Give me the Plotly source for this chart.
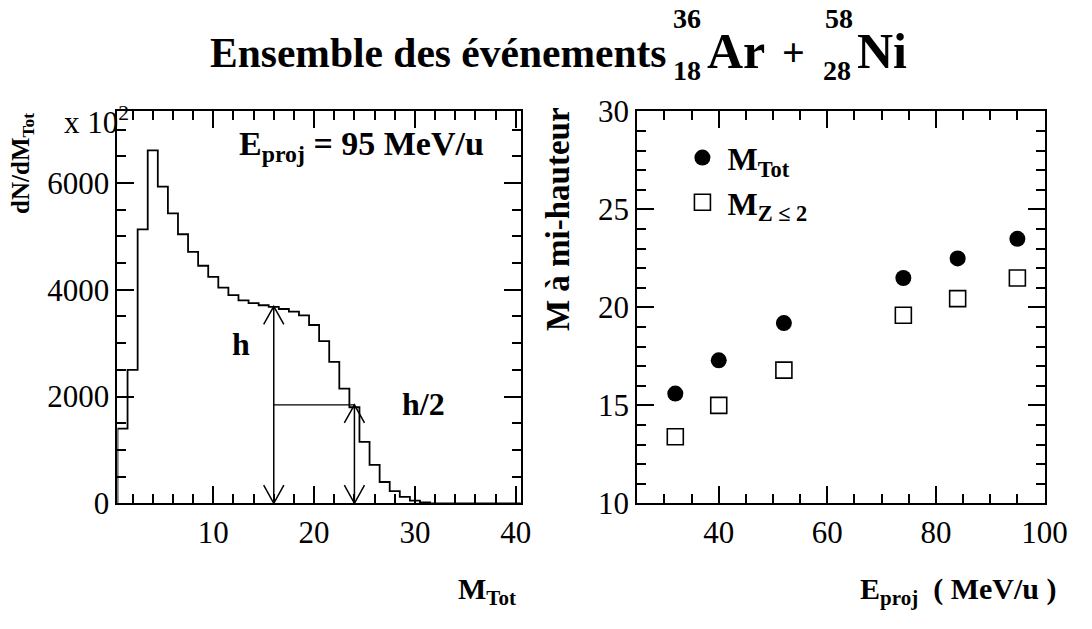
import numpy as np
import plotly.graph_objects as go

W, H = 1092, 629
FONT = "Liberation Serif, Times New Roman, Times, serif"

# ---------------- data ----------------
# Left panel: dN/dM_Tot (x 10^2) vs M_Tot, E_proj = 95 MeV/u
m_tot = list(range(1, 41))
counts = [1400, 2500, 5130, 6610, 5930, 5430, 5040, 4710, 4450, 4240,
          4040, 3900, 3800, 3750, 3710, 3680, 3640, 3590, 3520, 3340,
          3040, 2650, 2150, 1800, 1150, 720, 400, 230, 120, 50,
          20, 0, 0, 0, 0, 0, 0, 0, 0, 0]
h_pos = 16          # M_Tot where the height h is taken
h_val = 3690        # h
half_pos = 24       # M_Tot at half height

# Right panel: multiplicity at half height vs projectile energy
e_proj = [32, 40, 52, 74, 84, 95]
m_half_tot = [15.6, 17.3, 19.2, 21.5, 22.5, 23.5]
m_half_z2 = [13.4, 15.0, 16.8, 19.6, 20.45, 21.5]

# axis ranges
left_xrange, left_yrange = [0.5, 40.5], [0, 7340]
right_xrange, right_yrange = [25, 100], [10, 30]

# ---------------- figure ----------------
def px(x):
    return x / W

def py(y):
    return 1 - y / H

edges = list(np.array(m_tot) - 0.5) + [m_tot[-1] + 0.5]
hx = [edges[0]] + edges
hy = [0] + counts + [counts[-1]]

fig = go.Figure()
fig.add_trace(go.Scatter(x=hx, y=hy, mode="lines", line_shape="hv",
                         line=dict(color="black", width=1.8),
                         showlegend=False, xaxis="x", yaxis="y", hoverinfo="skip"))
fig.add_trace(go.Scatter(x=e_proj, y=m_half_tot, mode="markers",
                         name="<b>M<sub>Tot</sub></b>",
                         marker=dict(symbol="circle", size=16, color="black"),
                         xaxis="x2", yaxis="y2"))
fig.add_trace(go.Scatter(x=e_proj, y=m_half_z2, mode="markers",
                         name="<b>M<sub>Z ≤ 2</sub></b>",
                         marker=dict(symbol="square-open", size=16, color="black",
                                     line=dict(width=1.6, color="black")),
                         xaxis="x2", yaxis="y2"))

tickfont = dict(family=FONT, size=31, color="black")

def axis(domain, rng, dtick, minor_dtick, anchor):
    return dict(domain=domain, range=rng, dtick=dtick, tick0=0,
                ticks="inside", ticklen=17, tickwidth=2, tickcolor="black",
                minor=dict(dtick=minor_dtick, tick0=0, ticks="inside", ticklen=9,
                           tickwidth=1.6, tickcolor="black", showgrid=False),
                showline=True, linewidth=2, linecolor="black", mirror="allticks",
                showgrid=False, zeroline=False, tickfont=tickfont, anchor=anchor)

xdom_l = [px(120), px(532)]
xdom_r = [px(651), px(1067)]
ydom = [py(515), py(100)]
fig.update_layout(
    width=W, height=H, margin=dict(l=0, r=0, t=0, b=0),
    paper_bgcolor="white", plot_bgcolor="white",
    font=dict(family=FONT, color="black"),
    xaxis=axis(xdom_l, left_xrange, 10, 2, "y"),
    yaxis=axis(ydom, left_yrange, 2000, 500, "x"),
    xaxis2=axis(xdom_r, right_xrange, 20, 5, "y2"),
    yaxis2=axis(ydom, right_yrange, 5, 1, "x2"),
    legend=dict(x=px(692), y=py(120), xanchor="left", yanchor="top",
                bgcolor="rgba(0,0,0,0)", font=dict(family=FONT, size=32, color="black"),
                itemwidth=40, tracegroupgap=0),
)

# arrows (h and h/2)
dx, dy = 1.0, 340
ln = dict(color="black", width=1.5)
shapes = []
def varrow(x, y0, y1):
    shapes.append(dict(type="line", xref="x", yref="y", x0=x, x1=x, y0=y0, y1=y1, line=ln))
    shapes.append(dict(type="path", xref="x", yref="y",
                       path=f"M{x-dx},{y1-dy} L{x},{y1} L{x+dx},{y1-dy}", line=ln))
    shapes.append(dict(type="path", xref="x", yref="y",
                       path=f"M{x-dx},{y0+dy} L{x},{y0} L{x+dx},{y0+dy}", line=ln))
varrow(h_pos, 0, h_val)
varrow(half_pos, 0, h_val / 2)
shapes.append(dict(type="line", xref="x", yref="y", x0=h_pos, x1=half_pos,
                   y0=h_val / 2, y1=h_val / 2, line=dict(color="black", width=1.3)))
fig.update_layout(shapes=shapes)

anns = []
def ann(text, x, y, size, xanchor="center", yanchor="middle", angle=0):
    anns.append(dict(text=text, x=px(x), y=py(y), xref="paper", yref="paper",
                     xanchor=xanchor, yanchor=yanchor, showarrow=False, textangle=angle,
                     font=dict(family=FONT, size=size, color="black")))

# title
ann("<b>Ensemble des événements</b>", 212, 38, 41.5, xanchor="left")
ann("<b>36</b>", 702, 2, 28)
ann("<b>18</b>", 702, 57, 28)
ann("<b>Ar</b>", 720, 36, 50, xanchor="left")
ann("<b>+</b>", 811, 38, 40)
ann("<b>58</b>", 857, 2, 28)
ann("<b>28</b>", 855, 57, 28)
ann("<b>Ni</b>", 873, 36, 50, xanchor="left")

# axis titles
ann("<b>M<sub>Tot</sub></b>", 466, 608, 30, xanchor="left")
ann("<b>E<sub>proj</sub>  ( MeV/u )</b>", 876, 608, 30, xanchor="left")
ann("<b>dN/dM<sub>Tot</sub></b>", 23, 155, 25, angle=-90)
ann("x 10<sup>2</sup>", 134, 110, 31, xanchor="right")
ann("<b>M à mi-hauteur</b>", 570, 214, 33, angle=-90)

# in-plot texts
ann("<b>E<sub>proj</sub> = 95 MeV/u</b>", 242, 137, 34, xanchor="left")
ann("<b>h</b>", 246, 346, 32)
ann("<b>h/2</b>", 433, 410, 32)

fig.update_layout(annotations=anns)
fig.write_html("out.html")
